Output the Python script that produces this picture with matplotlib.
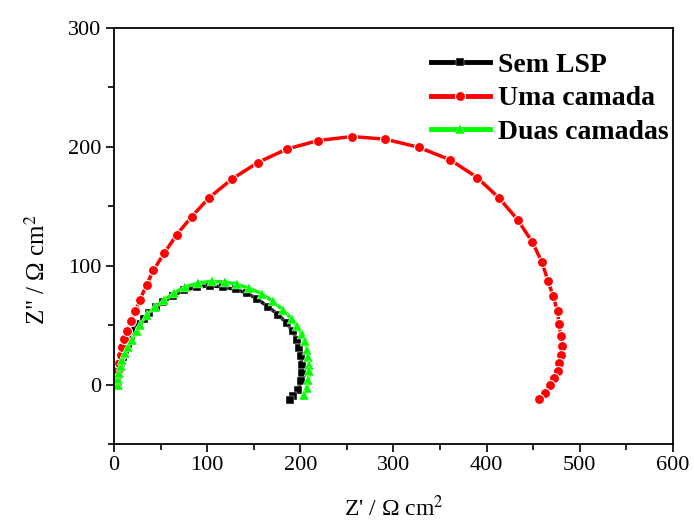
import matplotlib
matplotlib.use('Agg')
import matplotlib.pyplot as plt
from matplotlib.ticker import MultipleLocator

# Nyquist data (Z' , -Z'' in ohm cm2)
sem_x = [4, 4.3, 5, 6, 7.5, 9.5, 12, 15, 18.5, 22.5, 27.1, 32, 37.9, 45, 52.9, 63.0, 75.1,
         88.7, 103.0, 117.3, 130.9, 142.4, 153.8, 165.6, 176.3, 185.3, 191.7, 196.0, 198.8,
         200.6, 201.4, 201.4, 200.3, 197.7, 192.4, 188.8]
sem_y = [0, 4, 8.5, 13, 18, 23.5, 29, 34.5, 40, 45.5, 51, 55.5, 60.3, 65, 69.2, 74.8, 79.2,
         82.1, 83.2, 82.1, 80.0, 77.0, 72.0, 65.3, 58.8, 51.8, 44.8, 37.8, 30.8,
         23.8, 16.8, 9.8, 2.8, -4.2, -9.8, -12.6]

uma_x = [3, 3.5, 4.5, 5.8, 7.3, 9.0, 10.7, 14.3, 18.2, 22.5, 27.9, 35.1, 42.2, 54.0, 67.3,
         83.4, 102.3, 126.6, 154.2, 185.3, 218.9, 255.4, 291.1, 326.9, 360.9, 389.8, 413.4,
         433.2, 448.8, 459.5, 465.7, 471.4, 476.1, 477.8, 479.3, 480.4, 479.3, 477.8, 476.1,
         472.4, 467.8, 462.4, 456.3]
uma_y = [1, 6, 12, 18, 25, 31.5, 38.4, 45.4, 53.2, 61.6, 71.4, 84.0, 96.1, 110.7, 126.1,
         141.4, 157.4, 172.9, 186.8, 198.1, 205.3, 208.7, 206.5, 199.7, 189.1, 174.2, 156.9,
         138.7, 120.2, 102.8, 87.4, 74.2, 61.6, 51.0, 41.2, 32.8, 25.2, 18.2, 11.2,
         5.6, 0, -7.0, -12.0]

duas_x = [4, 4.5, 5.5, 7, 9, 11.5, 14.5, 19.0, 24.4, 27.9, 35.1, 44.0, 53.6, 64.4, 76.2, 90.5,
          104.8, 119.1, 131.7, 145.0, 158.5, 170.3, 181.0, 190.7, 196.7, 201.4, 204.9, 207.4,
          208.5, 209.5, 209.5, 208.5, 206.8, 203.9]
duas_y = [0, 5, 10, 15.5, 21, 26.5, 32, 37.8, 44.8, 50.4, 58.8, 65.3, 70.8, 77.1, 82.1, 85.5,
          86.8, 86.3, 84.5, 81.0, 76.5, 70.0, 63.0, 55.2, 49.0, 42.9, 36.4, 29.4,
          23.3, 16.8, 11.2, 4.2, -2.8, -8.4]

plt.rcParams.update({
    'font.family': ['Liberation Serif', 'DejaVu Serif'],
    'mathtext.fontset': 'stix',
    'font.size': 16,
})

fig = plt.figure(figsize=(6.94, 5.29), dpi=100)
ax = fig.add_axes([0.1643, 0.1607, 0.8054, 0.7863])

ax.plot(sem_x, sem_y, color='black', lw=2.5, marker='s', ms=5.5,
        mec='white', mew=0.3, label='Sem LSP')
ax.plot(uma_x, uma_y, color='#ff0000', lw=2.5, marker='o', ms=7.2,
        mec='white', mew=0.8, label='Uma camada')
ax.plot(duas_x, duas_y, color='#00ff00', lw=2.5, marker='^', ms=7,
        mec='white', mew=0.3, label='Duas camadas')

ax.set_xlim(0, 600)
ax.set_ylim(-50, 300)
ax.xaxis.set_major_locator(MultipleLocator(100))
ax.xaxis.set_minor_locator(MultipleLocator(50))
ax.yaxis.set_major_locator(MultipleLocator(100))
ax.yaxis.set_minor_locator(MultipleLocator(50))
ax.tick_params(which='major', direction='out', length=6, width=1.2, labelsize=16, pad=3)
ax.tick_params(which='minor', direction='out', length=4, width=1.2)
for s in ax.spines.values():
    s.set_linewidth(1.3)

ax.set_xlabel("Z' / Ω cm$^2$", fontsize=17)
ax.xaxis.set_label_coords(0.5, -0.125)
ax.set_ylabel('Z" / Ω cm$^2$', fontsize=18)
ax.yaxis.set_label_coords(-0.115, 0.42)

leg = ax.legend(loc='upper right', bbox_to_anchor=(1.022, 0.982), frameon=False,
                handlelength=2.1, handletextpad=0.3, labelspacing=0.3,
                borderaxespad=0.2, prop={'weight': 'bold', 'size': 20})
for h in leg.legend_handles:
    h.set_linewidth(3.5)

fig.savefig('out.png', dpi=100)
